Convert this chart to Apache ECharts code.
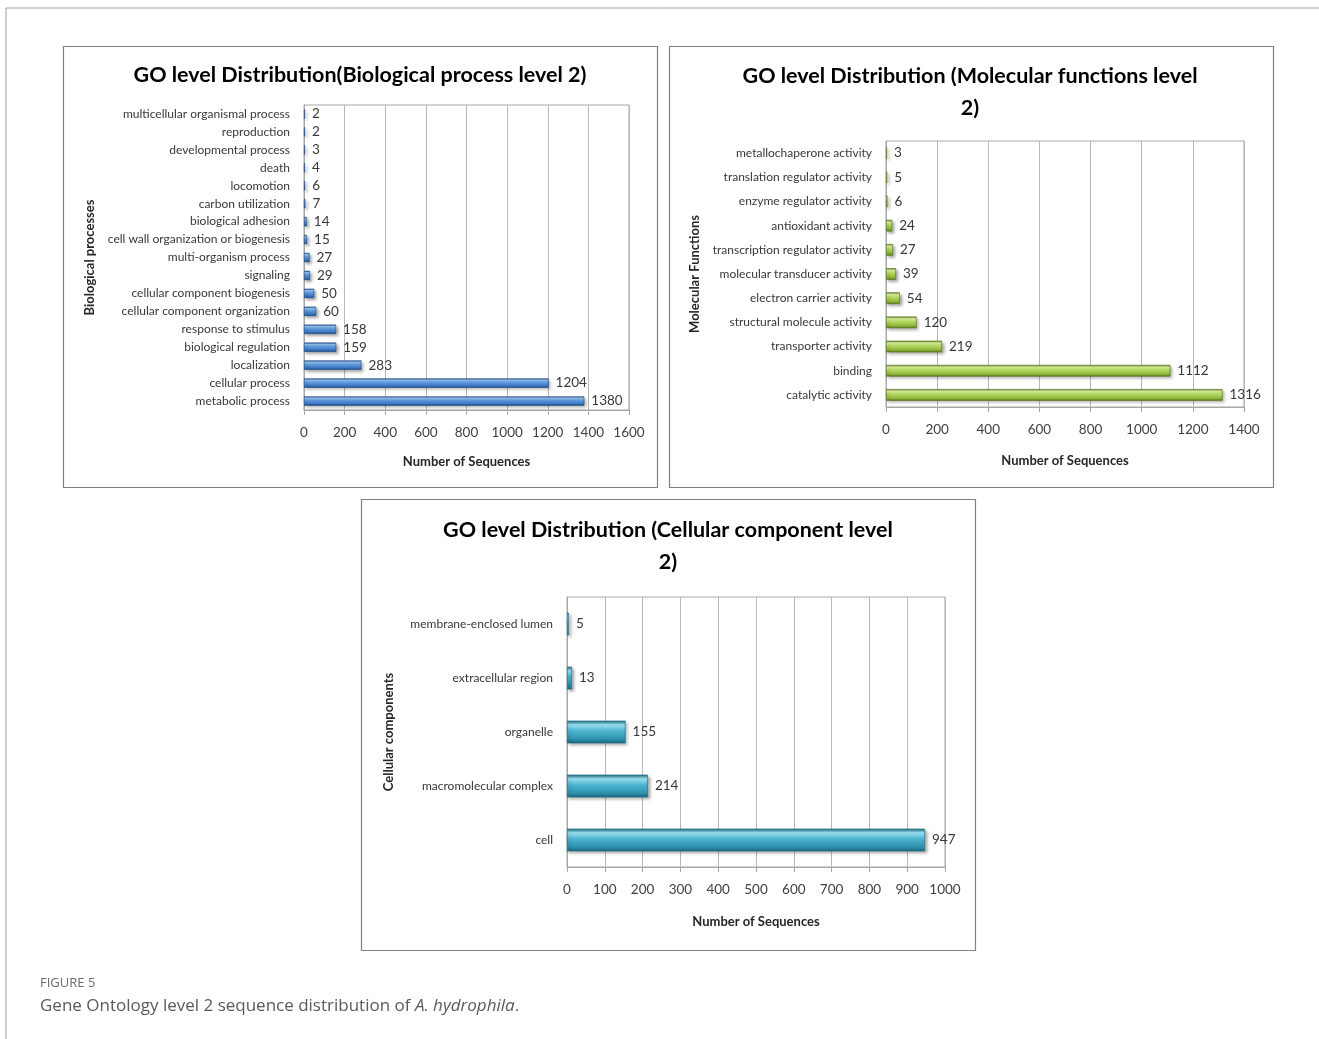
<!DOCTYPE html>
<html>
<head>
<meta charset="utf-8">
<style>
  html, body { margin: 0; padding: 0; background: #fff; }
  #chart { width: 1319px; height: 1039px; }
</style>
<script src="https://cdn.jsdelivr.net/npm/echarts@6/dist/echarts.min.js"></script>
</head>
<body>
<div id="chart"></div>
<script>
// Biological process, level 2 (top to bottom)
const bpCategories = [
  'multicellular organismal process', 'reproduction', 'developmental process', 'death',
  'locomotion', 'carbon utilization', 'biological adhesion', 'cell wall organization or biogenesis',
  'multi-organism process', 'signaling', 'cellular component biogenesis',
  'cellular component organization', 'response to stimulus', 'biological regulation',
  'localization', 'cellular process', 'metabolic process'
];
const bpValues = [2, 2, 3, 4, 6, 7, 14, 15, 27, 29, 50, 60, 158, 159, 283, 1204, 1380];

// Molecular function, level 2
const mfCategories = [
  'metallochaperone activity', 'translation regulator activity', 'enzyme regulator activity',
  'antioxidant activity', 'transcription regulator activity', 'molecular transducer activity',
  'electron carrier activity', 'structural molecule activity', 'transporter activity',
  'binding', 'catalytic activity'
];
const mfValues = [3, 5, 6, 24, 27, 39, 54, 120, 219, 1112, 1316];

// Cellular component, level 2
const ccCategories = [
  'membrane-enclosed lumen', 'extracellular region', 'organelle', 'macromolecular complex', 'cell'
];
const ccValues = [5, 13, 155, 214, 947];

const panelTitles = [
  'GO level Distribution(Biological process level 2)',
  'GO level Distribution (Molecular functions level\n2)',
  'GO level Distribution (Cellular component level\n2)'
];
const yAxisNames = ['Biological processes', 'Molecular Functions', 'Cellular components'];
const xAxisName = 'Number of Sequences';
const captionHead = 'FIGURE 5';
const captionText = 'Gene Ontology level 2 sequence distribution of ';
const captionSpecies = 'A. hydrophila';

const FONT = 'Lato, "Open Sans", sans-serif';
const chart = echarts.init(document.getElementById('chart'), null, { renderer: 'canvas' });

// Cylinder-like shading across bar thickness
function barFill(edge, light, mid, dark) {
  return new echarts.graphic.LinearGradient(0, 0, 0, 1, [
    { offset: 0, color: edge },
    { offset: 0.18, color: light },
    { offset: 0.45, color: mid },
    { offset: 0.8, color: dark },
    { offset: 1, color: edge }
  ]);
}
const blueFill = barFill('#1d4a86', '#9cc6f2', '#5d9be0', '#3a74bd');
const greenFill = barFill('#56761a', '#e0f3a0', '#b3d85e', '#8db43a');
const tealFill = barFill('#1a6a80', '#9be2f2', '#4db4cf', '#2f93ae');

const grids = [
  { left: 304, top: 105, width: 325, height: 305 },
  { left: 886, top: 141, width: 358, height: 266 },
  { left: 567, top: 597, width: 378, height: 270 }
];

function xAxisFor(i, max, interval) {
  return {
    type: 'value', gridIndex: i, min: 0, max: max, interval: interval,
    name: xAxisName, nameLocation: 'middle', nameGap: i === 0 ? 45 : (i === 1 ? 47 : 48),
    nameTextStyle: { fontFamily: FONT, fontWeight: 'bold', fontSize: 13, color: '#262626' },
    axisLine: { show: true, lineStyle: { color: '#a6a6a6' } },
    axisTick: { show: true, length: 5, lineStyle: { color: '#a6a6a6' } },
    axisLabel: { fontFamily: FONT, fontSize: 13.5, color: '#404040', margin: 16,
      formatter: v => String(v) },
    splitLine: { show: true, lineStyle: { color: '#b8b8b8', width: 1 } }
  };
}
function yAxisFor(i, cats, gap) {
  return {
    type: 'category', gridIndex: i, data: cats, inverse: true,
    name: yAxisNames[i], nameLocation: 'middle', nameGap: gap,
    nameTextStyle: { fontFamily: FONT, fontWeight: 'bold', fontSize: 13, color: '#262626' },
    axisLine: { show: true, lineStyle: { color: '#a6a6a6' } },
    axisTick: { show: false },
    axisLabel: { fontFamily: FONT, fontSize: 12, color: '#383838', margin: 14 },
    splitLine: { show: false }
  };
}
function seriesFor(i, values, fill, edge, gap) {
  return {
    type: 'bar', xAxisIndex: i, yAxisIndex: i, data: values,
    barCategoryGap: gap, barMinHeight: 1,
    itemStyle: {
      color: fill, borderColor: edge, borderWidth: 0.6,
      shadowColor: 'rgba(0,0,0,0.35)', shadowBlur: 3, shadowOffsetX: 2, shadowOffsetY: 2
    },
    label: {
      show: true, position: 'right', distance: 7,
      fontFamily: FONT, fontSize: 13.5, color: '#383838'
    },
    silent: true
  };
}

const titleStyle = { fontFamily: FONT, fontWeight: 'bold', fontSize: 21.5, color: '#000', lineHeight: 32 };

chart.setOption({
  animation: false,
  backgroundColor: '#fff',
  title: [
    { text: panelTitles[0], left: 355, top: 54, textAlign: 'center', textStyle: titleStyle },
    { text: panelTitles[1], left: 965, top: 55, textAlign: 'center', textStyle: titleStyle },
    { text: panelTitles[2], left: 663, top: 509, textAlign: 'center', textStyle: titleStyle }
  ],
  grid: grids.map(g => Object.assign({ show: true, borderColor: '#a6a6a6', borderWidth: 1, backgroundColor: 'transparent', containLabel: false }, g)),
  xAxis: [xAxisFor(0, 1600, 200), xAxisFor(1, 1400, 200), xAxisFor(2, 1000, 100)],
  yAxis: [yAxisFor(0, bpCategories, 208), yAxisFor(1, mfCategories, 185), yAxisFor(2, ccCategories, 172)],
  series: [
    seriesFor(0, bpValues, blueFill, '#1d4a86', '48%'),
    seriesFor(1, mfValues, greenFill, '#56761a', '52%'),
    seriesFor(2, ccValues, tealFill, '#1a6a80', '58%')
  ],
  graphic: [
    // page frame
    { type: 'line', shape: { x1: 6, y1: 8, x2: 1319, y2: 8 }, style: { stroke: '#a0a0a0', lineWidth: 1 } },
    { type: 'line', shape: { x1: 6, y1: 8, x2: 6, y2: 1039 }, style: { stroke: '#a0a0a0', lineWidth: 1 } },
    // panel boxes
    { type: 'rect', shape: { x: 63.5, y: 46.5, width: 594, height: 441 }, style: { fill: 'none', stroke: '#808080', lineWidth: 1.2 } },
    { type: 'rect', shape: { x: 669.5, y: 46.5, width: 604, height: 441 }, style: { fill: 'none', stroke: '#808080', lineWidth: 1.2 } },
    { type: 'rect', shape: { x: 361.5, y: 499.5, width: 614, height: 451 }, style: { fill: 'none', stroke: '#808080', lineWidth: 1.2 } },
    // caption
    { type: 'text', left: 40, top: 977, style: { text: captionHead, font: '13px "Open Sans", sans-serif', fill: '#6b6b6b' } },
    { type: 'text', left: 40, top: 998, style: {
        text: '{n|' + captionText + '}{i|' + captionSpecies + '}{n|.}',
        rich: {
          n: { font: '17px "Open Sans", sans-serif', fill: '#5a5a5a' },
          i: { font: 'italic 17px "Open Sans", sans-serif', fill: '#5a5a5a' }
        }
      } }
  ]
});
</script>
</body>
</html>
